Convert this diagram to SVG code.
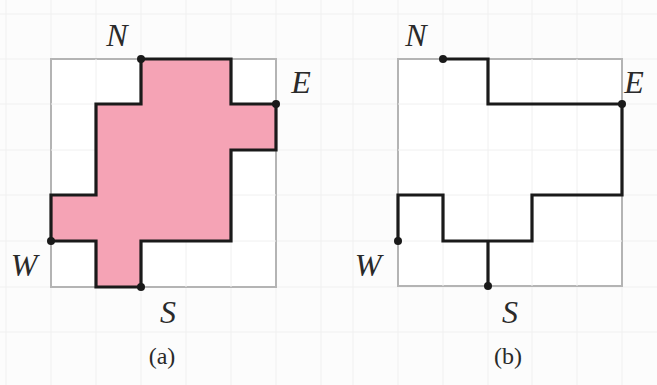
<svg xmlns="http://www.w3.org/2000/svg" width="657" height="385" viewBox="0 0 657 385">
<style>
.lbl{font-family:"Liberation Serif","Times New Roman",serif;font-style:italic;font-size:32px;fill:#2a2a2a}
.cap{font-family:"Liberation Serif","Times New Roman",serif;font-size:24px;fill:#2a2a2a}
.frame{fill:#fff;stroke:#b4b4b4;stroke-width:2}
.grid{stroke:#f0f0f0;stroke-width:1;fill:none}
.path{fill:none;stroke:#1a1a1a;stroke-width:3.2;stroke-linejoin:miter}
.dot{fill:#1a1a1a}
</style>
<rect width="657" height="385" fill="#fcfcfc"/>
<g class="grid">
<path d="M0 14H657M0 59H657M0 104H657M0 150H657M0 195H657M0 241H657M0 287H657M0 332H657"/>
<path d="M6 0V385M51 0V385M96 0V385M141 0V385M186 0V385M231 0V385M276 0V385M321 0V385M353 0V385M398 0V385M443 0V385M488 0V385M532 0V385M577 0V385M622 0V385"/>
</g>
<g id="panel-a">
<rect class="frame" x="51" y="59" width="225" height="228"/>
<path class="grid" d="M96 59V287M141 59V287M186 59V287M231 59V287M51 104H276M51 150H276M51 195H276M51 241H276"/>
<path d="M141 59H231V104H276V150H231V241H141V287H96V241H51V195H96V104H141Z" fill="#f5a3b5" stroke="#1a1a1a" stroke-width="3.2"/>
<circle class="dot" cx="141" cy="59" r="4"/>
<circle class="dot" cx="276" cy="104" r="4"/>
<circle class="dot" cx="51" cy="241" r="4"/>
<circle class="dot" cx="141" cy="287" r="4"/>
<text class="lbl" x="117" y="46" text-anchor="middle">N</text>
<text class="lbl" x="301" y="93" text-anchor="middle">E</text>
<text class="lbl" x="24" y="276" text-anchor="middle">W</text>
<text class="lbl" x="168" y="323" text-anchor="middle">S</text>
<text class="cap" x="162" y="364" text-anchor="middle">(a)</text>
</g>
<g id="panel-b">
<rect class="frame" x="398" y="59" width="224" height="227"/>
<path class="grid" d="M443 59V286M488 59V286M532 59V286M577 59V286M398 104H622M398 150H622M398 195H622M398 241H622"/>
<path class="path" d="M443 59H488V104H622V195H532V241H443V195H398V241"/>
<path class="path" d="M488 241V286"/>
<circle class="dot" cx="443" cy="59" r="4"/>
<circle class="dot" cx="622" cy="104" r="4"/>
<circle class="dot" cx="398" cy="241" r="4"/>
<circle class="dot" cx="488" cy="286" r="4"/>
<text class="lbl" x="416" y="46" text-anchor="middle">N</text>
<text class="lbl" x="634" y="93" text-anchor="middle">E</text>
<text class="lbl" x="368" y="276" text-anchor="middle">W</text>
<text class="lbl" x="510" y="323" text-anchor="middle">S</text>
<text class="cap" x="508" y="364" text-anchor="middle">(b)</text>
</g>
</svg>
